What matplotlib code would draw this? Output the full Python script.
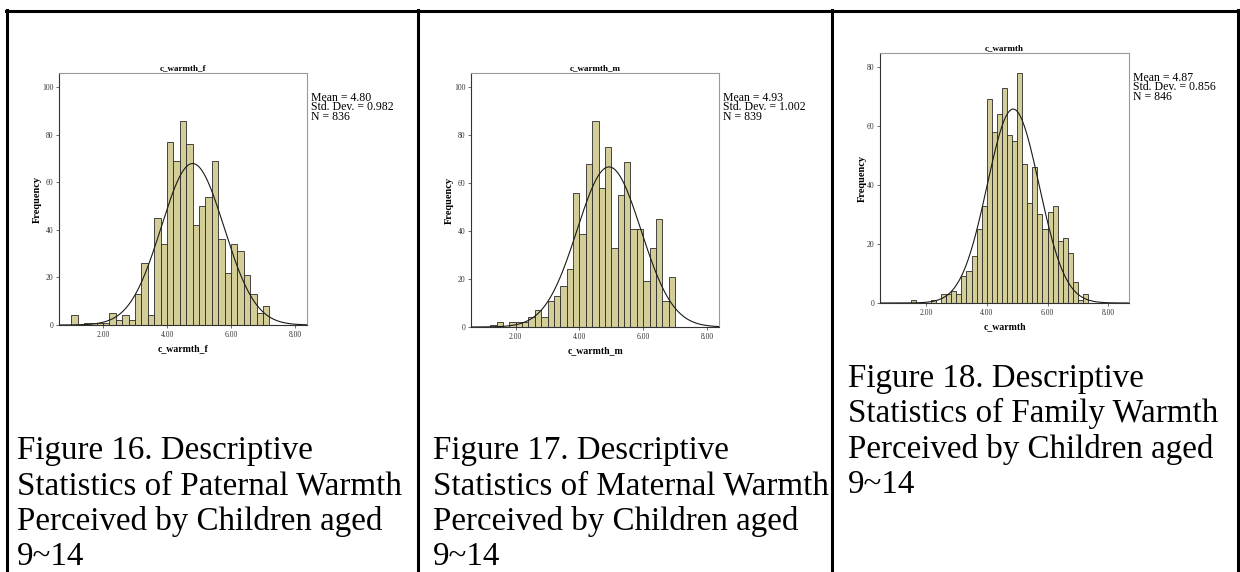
"""Three SPSS-style warmth histograms laid out in a table with captions."""
import matplotlib
matplotlib.use("Agg")
import matplotlib.pyplot as plt
import numpy as np
from matplotlib.lines import Line2D

W, H = 1240, 572

# ---- data ----
F_BIN_START, F_BIN_WIDTH = 1.0, 0.2
F_COUNTS = [4, 0, 1, 1, 1, 1, 5, 2, 4, 2, 13, 26, 4, 45, 34, 77, 69, 86, 76,
            42, 50, 54, 69, 36, 22, 34, 31, 21, 13, 5, 8]
F_STATS = (4.80, 0.982, 836)

M_BIN_START, M_BIN_WIDTH = 1.2, 0.2
M_COUNTS = [1, 2, 0, 2, 2, 2, 4, 7, 4, 11, 13, 17, 24, 56, 39, 68, 86, 58,
            75, 33, 55, 69, 41, 41, 19, 33, 45, 11, 21]
M_STATS = (4.93, 1.002, 839)

C_BIN_START, C_BIN_WIDTH = 1.5, 1 / 6
C_COUNTS = [1, 0, 0, 0, 1, 0, 3, 3, 4, 3, 9, 11, 16, 25, 33, 69, 58, 64, 73,
            57, 55, 78, 47, 34, 46, 30, 25, 31, 33, 21, 22, 17, 7, 1, 3]
C_STATS = (4.87, 0.856, 846)

X_TICKS = [2, 4, 6, 8]
X_TICKLABELS = ["2.00", "4.00", "6.00", "8.00"]

CAPTIONS = [
    ["Figure 16. Descriptive", "Statistics of Paternal Warmth",
     "Perceived by Children aged", "9~14"],
    ["Figure 17. Descriptive", "Statistics of Maternal Warmth",
     "Perceived by Children aged", "9~14"],
    ["Figure 18. Descriptive", "Statistics of Family Warmth",
     "Perceived by Children aged", "9~14"],
]

SERIF = ["Liberation Serif", "DejaVu Serif"]
BAR = "#d3ce97"

fig = plt.figure(figsize=(W / 100, H / 100), dpi=100)
fig.patch.set_facecolor("white")


def fx(x):
    return x / W


def fy(y):
    return 1 - y / H


def panel(box, counts, start, width, stats, var, xlim, ylim, yticks):
    left, top, right, bottom = box
    ax = fig.add_axes([fx(left), fy(bottom), fx(right - left), (bottom - top) / H])
    edges = start + width * np.arange(len(counts))
    ax.bar(edges, counts, width=width, align="edge", color=BAR,
           edgecolor="#2a2a2a", lw=0.6, zorder=2)
    mean, sd, n = stats
    xs = np.linspace(xlim[0], xlim[1], 400)
    ys = n * width * np.exp(-0.5 * ((xs - mean) / sd) ** 2) / (sd * np.sqrt(2 * np.pi))
    ax.plot(xs, ys, color="#1a1a1a", lw=0.8, zorder=3)
    ax.set_xlim(*xlim); ax.set_ylim(*ylim)
    ax.set_xticks(X_TICKS); ax.set_xticklabels(X_TICKLABELS)
    ax.set_yticks(yticks); ax.set_yticklabels([str(t) for t in yticks])
    ax.tick_params(direction="out", length=2.5, width=0.5, pad=1.5,
                   labelsize=5.5, colors="#333333")
    for t in ax.get_xticklabels() + ax.get_yticklabels():
        t.set_family(SERIF)
    for s in ("left", "bottom"):
        ax.spines[s].set_color("#333333"); ax.spines[s].set_linewidth(0.8)
    for s in ("top", "right"):
        ax.spines[s].set_color("#9a9a9a"); ax.spines[s].set_linewidth(0.8)
    ax.set_title(var, fontsize=6.5, fontweight="bold", family=SERIF, pad=2)
    ax.set_xlabel(var, fontsize=7, fontweight="bold", family=SERIF, labelpad=4)
    ax.set_ylabel("Frequency", fontsize=7.5, fontweight="bold", family=SERIF, labelpad=0)
    fig.text(fx(right + 4), fy(top + 19),
             f"Mean = {mean:.2f}\nStd. Dev. = {sd:.3f}\nN = {n}",
             fontsize=8.5, family=SERIF, va="top", ha="left", linespacing=0.72)
    return ax


panel((59, 73, 307, 325), F_COUNTS, F_BIN_START, F_BIN_WIDTH, F_STATS,
      "c_warmth_f", (0.62, 8.38), (0, 106), [0, 20, 40, 60, 80, 100])
panel((471, 73, 719, 327), M_COUNTS, M_BIN_START, M_BIN_WIDTH, M_STATS,
      "c_warmth_m", (0.6, 8.38), (0, 106), [0, 20, 40, 60, 80, 100])
panel((880, 53, 1129, 303), C_COUNTS, C_BIN_START, C_BIN_WIDTH, C_STATS,
      "c_warmth", (0.49, 8.68), (0, 84.7), [0, 20, 40, 60, 80])

# table borders
lw = 2.2
fig.add_artist(Line2D([fx(6), fx(1239)], [fy(11), fy(11)], color="black", lw=lw))
for x in (7, 418, 832, 1238):
    fig.add_artist(Line2D([fx(x), fx(x)], [fy(10), fy(H)], color="black", lw=lw))

# captions
for (x0, y0), lines in zip([(17, 459), (433, 459), (848, 387)], CAPTIONS):
    for i, line in enumerate(lines):
        fig.text(fx(x0), fy(y0 + 35.3 * i), line, fontsize=23.8, family=SERIF,
                 va="baseline", ha="left")

fig.savefig("out.png", dpi=100)
